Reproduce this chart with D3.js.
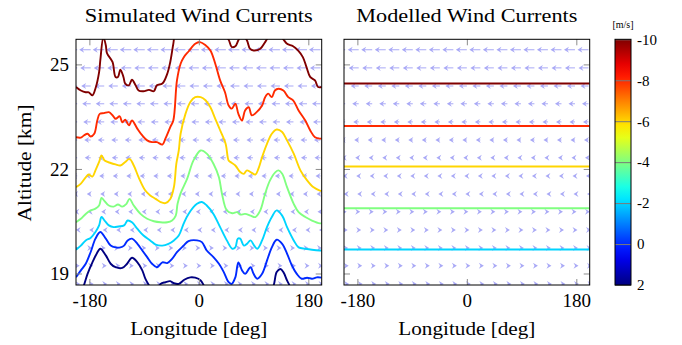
<!DOCTYPE html>
<html>
<head>
<meta charset="utf-8">
<script src="https://cdn.jsdelivr.net/npm/d3@7"></script>
<style>
body { margin: 0; background: #fff; }
text { font-family: "Liberation Serif", "DejaVu Serif", serif; fill: #000; }
</style>
</head>
<body>
<svg id="chart" width="682" height="345"></svg>
<script>
// contour levels [m/s] and the simulated contour lines as [lon, alt] pairs
const levels = [-10, -8, -6, -4, -2, 0, 2];

const simM10 = [[-202,24.35],[-194,24.25],[-186,24.20],[-181,24.20],[-175,24.11],[-170,24.31],[-164,24.78],[-162,25.12],[-157,25.78],[-153,25.55],[-151,25.32],[-142,25.07],[-137,24.64],[-133,24.64],[-129,24.85],[-124,24.64],[-121,24.45],[-115,24.40],[-110,24.56],[-104,24.40],[-99,24.25],[-91,24.23],[-82,24.27],[-74,24.23],[-69,24.40],[-60,24.45],[-52,24.73],[-47,25.07],[-42,25.59],[-38,25.95],[-20,26.3],[10,26.4],[35,26.1],[44,25.8],[49,25.71],[54,25.50],[60,25.52],[65,25.69],[71,25.85],[79,25.69],[84,25.45],[90,25.40],[101,25.45],[109,25.64],[117,25.85],[128,25.95],[139,25.72],[145,25.59],[155,25.52],[163,25.40],[171,25.21],[177,24.92],[183,24.64],[191,24.54],[196,24.35],[202,24.35]];
const simM8 = [[-202,22.91],[-194,22.90],[-189,22.96],[-183,23.01],[-178,22.93],[-172,23.01],[-167,23.39],[-163,23.58],[-156,23.60],[-148,23.63],[-142,23.54],[-137,23.44],[-130,23.51],[-126,23.34],[-121,23.41],[-115,23.25],[-110,23.39],[-101,23.15],[-93,22.96],[-85,22.82],[-77,22.77],[-69,22.77],[-60,22.70],[-55,22.87],[-47,23.20],[-42,23.39],[-36,24.54],[-30,25.02],[-25,25.20],[-17,25.37],[-6,25.59],[2,25.64],[11,25.55],[19,25.40],[27,25.02],[35,24.54],[43,24.20],[49,23.82],[54,23.73],[60,23.87],[65,23.58],[71,23.39],[76,23.68],[82,23.77],[87,23.54],[95,23.63],[104,23.82],[109,24.06],[114,24.16],[120,24.06],[125,24.25],[131,24.30],[139,24.25],[147,24.06],[155,23.97],[164,23.68],[175,23.39],[183,23.11],[191,22.91],[199,22.87],[202,22.88]];
const simM6 = [[-202,21.48],[-194,21.58],[-186,21.76],[-181,21.84],[-175,21.78],[-170,21.96],[-164,22.20],[-160,22.39],[-155,22.24],[-145,22.17],[-137,22.13],[-129,22.10],[-121,22.20],[-114,22.29],[-107,22.10],[-99,21.76],[-88,21.38],[-80,21.24],[-71,21.14],[-63,21.05],[-55,21.02],[-47,21.14],[-41,21.48],[-37,22.15],[-33,22.53],[-30,23.01],[-22,23.58],[-14,23.92],[-6,24.06],[3,24.06],[11,23.97],[19,23.77],[27,23.44],[35,23.11],[44,22.72],[49,22.24],[52,22.20],[60,22.10],[68,21.91],[74,21.86],[79,21.96],[85,21.91],[93,21.84],[98,22.01],[104,22.34],[112,22.72],[120,23.01],[128,23.13],[137,23.06],[145,22.82],[156,22.44],[167,21.96],[178,21.67],[188,21.48],[199,21.38],[202,21.37]];
const simM4 = [[-202,20.47],[-194,20.57],[-186,20.71],[-178,20.81],[-170,20.86],[-164,20.95],[-160,21.17],[-156,21.10],[-148,20.95],[-140,20.92],[-133,20.98],[-126,20.92],[-119,21.00],[-114,21.14],[-107,20.95],[-96,20.71],[-85,20.57],[-74,20.50],[-63,20.47],[-52,20.47],[-44,20.52],[-38,20.66],[-35,21.00],[-30,21.30],[-19,21.73],[-9,22.24],[3,22.53],[13,22.44],[24,22.15],[33,21.76],[38,21.29],[46,20.81],[55,20.73],[63,20.76],[68,20.69],[76,20.71],[85,20.66],[93,20.62],[101,20.81],[109,21.29],[117,21.67],[126,21.91],[131,21.96],[137,21.86],[145,21.48],[156,21.00],[164,20.76],[175,20.62],[186,20.52],[199,20.44],[202,20.44]];
const simM2 = [[-202,19.68],[-194,19.80],[-186,19.95],[-178,20.02],[-170,20.19],[-164,20.38],[-160,20.62],[-155,20.52],[-148,20.38],[-140,20.33],[-132,20.35],[-123,20.38],[-117,20.52],[-110,20.47],[-101,20.28],[-91,20.09],[-80,19.95],[-71,19.83],[-60,19.80],[-50,19.85],[-41,19.95],[-33,20.09],[-25,20.43],[-17,20.71],[-3,21.00],[5,21.05],[13,20.95],[24,20.71],[35,20.33],[46,19.95],[55,19.71],[60,19.75],[64,20.00],[68,20.00],[74,19.80],[79,19.85],[85,19.95],[91,19.80],[96,19.71],[104,19.95],[112,20.33],[120,20.62],[128,20.81],[137,20.66],[145,20.33],[156,19.95],[164,19.75],[175,19.71],[186,19.68],[199,19.66],[202,19.66]];
const sim0 = [[-202,18.89],[-194,19.09],[-186,19.28],[-178,19.61],[-170,20.00],[-162,20.19],[-153,20.00],[-145,19.80],[-137,19.75],[-129,19.75],[-123,19.80],[-117,19.95],[-110,20.00],[-101,19.85],[-93,19.66],[-85,19.47],[-77,19.28],[-69,19.18],[-60,19.32],[-52,19.30],[-44,19.42],[-36,19.61],[-25,19.80],[-17,19.93],[-3,19.95],[5,19.90],[13,19.66],[24,19.47],[33,19.28],[41,19.04],[49,18.75],[54,18.70],[60,18.89],[65,19.32],[71,19.09],[76,18.99],[85,19.18],[90,18.99],[96,18.85],[104,18.99],[112,19.37],[120,19.75],[128,19.97],[137,19.85],[145,19.57],[153,19.23],[161,18.99],[169,18.85],[178,18.88],[186,18.85],[194,18.89],[202,18.88]];
const simP2 = [[-202,18.30],[-194,18.46],[-189,18.66],[-183,18.99],[-175,19.32],[-168,19.57],[-162,19.71],[-153,19.52],[-145,19.28],[-137,19.18],[-126,19.16],[-118,19.28],[-110,19.45],[-101,19.32],[-93,19.09],[-88,18.85],[-82,18.66],[-76,18.45],[-70,18.45],[-63,18.70],[-55,18.75],[-47,18.78],[-41,18.72],[-33,18.70],[-24,18.82],[-14,18.89],[-6,18.88],[3,18.80],[8,18.66],[14,18.45],[60,18.20],[117,18.45],[123,18.66],[128,19.04],[134,19.13],[139,19.04],[145,18.80],[149,18.66],[153,18.45],[202,18.30]];
const simLines = [simM10, simM8, simM6, simM4, simM2, sim0, simP2];

// modelled contours: one altitude per level [km]
const modelAlt = [24.45, 23.23, 22.07, 20.87, 19.69, 18.50, 17.31];

// wind arrow grid
const arrowLon = [-200, -177.8, -155.6, -133.3, -111.1, -88.9, -66.7, -44.4, -22.2, 0, 22.2, 44.4, 66.7, 88.9, 111.1, 133.3, 155.6, 177.8, 200];
const arrowAlt = [18.70, 19.22, 19.73, 20.25, 20.77, 21.28, 21.80, 22.32, 22.83, 23.35, 23.87, 24.38, 24.90, 25.42];
const simU = [3, 2.5, 1.5, -1.5, -3, -4, -5, -6, -6.5, -7.5, -8.5, -9.5, -10.5, -11.5];
const modelU = [4, 3.5, 3, 2.5, 1.5, -1.5, -2.5, -3.5, -4.5, -5.5, -6.5, -8, -10, -11];

const lonTicks = [-180, 0, 180];
const altTicks = [19, 22, 25];
const cbTicks = [-10, -8, -6, -4, -2, 0, 2];

const svg = d3.select("#chart");
const plotTop = 39.3, plotBottom = 285, side = 245.7;
const panels = [
    { x0: 76, title: "Simulated Wind Currents", titleLen: 228, u: simU, lines: simLines, labels: true },
    { x0: 344, title: "Modelled Wind Currents", titleLen: 221, u: modelU, lines: null, labels: false }
];

const y = d3.scaleLinear().domain([18.67, 25.72]).range([plotBottom, plotTop]);

const jet = d3.scaleLinear()
    .domain([0, 0.125, 0.375, 0.625, 0.875, 1])
    .range(["#000080", "#0000ff", "#00ffff", "#ffff00", "#ff0000", "#800000"]);
const levelColor = v => jet((2 - v) / 12);
const plain = d => String(d);  // hyphen minus, as in the original

const line = d3.line()
    .x(d => d[0])
    .y(d => d[1])
    .curve(d3.curveCatmullRom.alpha(0.5));

const defs = svg.append("defs");

panels.forEach((p, pi) => {
    const x = d3.scaleLinear().domain([-202, 202]).range([p.x0, p.x0 + side]);
    const g = svg.append("g");

    defs.append("clipPath").attr("id", "clip" + pi)
        .append("rect").attr("x", p.x0).attr("y", plotTop).attr("width", side).attr("height", plotBottom - plotTop);

    const plot = g.append("g").attr("clip-path", "url(#clip" + pi + ")");

    // quiver arrows
    const arrows = plot.append("g").attr("fill", "#a9a9f6").attr("stroke", "#a9a9f6");
    arrowAlt.forEach((alt, i) => {
        const u = p.u[i], dir = Math.sign(u), yy = y(alt);
        arrowLon.forEach(lon => {
            const x0 = x(lon), x1 = x0 + u;
            if (Math.abs(u) > 3) {
                arrows.append("line")
                    .attr("x1", x0).attr("y1", yy)
                    .attr("x2", x1 - dir * 3).attr("y2", yy)
                    .attr("stroke-width", 1);
            }
            arrows.append("path")
                .attr("stroke", "none")
                .attr("d", `M${x1},${yy}L${x1 - dir * 5},${yy - 3}L${x1 - dir * 3.3},${yy}L${x1 - dir * 5},${yy + 3}Z`);
        });
    });

    // contour lines
    if (p.lines) {
        p.lines.forEach((pts, k) => {
            plot.append("path")
                .attr("d", line(pts.map(d => [x(d[0]), y(d[1])])))
                .attr("fill", "none")
                .attr("stroke", levelColor(levels[k]))
                .attr("stroke-width", 1.9)
                .attr("stroke-linejoin", "round");
        });
    } else {
        modelAlt.forEach((alt, k) => {
            plot.append("line")
                .attr("x1", x(-202)).attr("x2", x(202))
                .attr("y1", y(alt)).attr("y2", y(alt))
                .attr("stroke", levelColor(levels[k]))
                .attr("stroke-width", 2);
        });
    }

    // axes with inward gray ticks on all four sides
    const axB = g.append("g").attr("transform", `translate(0,${plotBottom})`)
        .call(d3.axisBottom(x).tickValues(lonTicks).tickSize(-6).tickPadding(9).tickFormat(plain));
    const axT = g.append("g").attr("transform", `translate(0,${plotTop})`)
        .call(d3.axisTop(x).tickValues(lonTicks).tickSize(-6).tickFormat(""));
    const axL = g.append("g").attr("transform", `translate(${p.x0},0)`)
        .call(d3.axisLeft(y).tickValues(altTicks).tickSize(-6).tickPadding(7)
            .tickFormat(p.labels ? plain : ""));
    const axR = g.append("g").attr("transform", `translate(${p.x0 + side},0)`)
        .call(d3.axisRight(y).tickValues(altTicks).tickSize(-6).tickFormat(""));
    [axB, axT, axL, axR].forEach(a => {
        a.select(".domain").remove();
        a.selectAll(".tick line").attr("stroke", "#8c8c8c").attr("stroke-width", 1);
        a.selectAll(".tick text").attr("font-family", "Liberation Serif").attr("font-size", 19).attr("fill", "#000");
    });

    g.append("rect")
        .attr("x", p.x0).attr("y", plotTop).attr("width", side).attr("height", plotBottom - plotTop)
        .attr("fill", "none").attr("stroke", "#000").attr("stroke-width", 1);

    g.append("text")
        .attr("x", p.x0 + side / 2).attr("y", 22)
        .attr("text-anchor", "middle").attr("font-size", 19)
        .attr("textLength", p.titleLen).attr("lengthAdjust", "spacingAndGlyphs")
        .text(p.title);

    g.append("text")
        .attr("x", p.x0 + side / 2).attr("y", 335)
        .attr("text-anchor", "middle").attr("font-size", 19)
        .attr("textLength", 137).attr("lengthAdjust", "spacingAndGlyphs")
        .text("Longitude [deg]");
});

svg.append("text")
    .attr("transform", "translate(31,163) rotate(-90)")
    .attr("text-anchor", "middle").attr("font-size", 19)
    .attr("textLength", 117).attr("lengthAdjust", "spacingAndGlyphs")
    .text("Altitude [km]");

// colorbar
const cb = d3.scaleLinear().domain([2, -10]).range([plotBottom, plotTop]);
const grad = defs.append("linearGradient").attr("id", "jetGrad")
    .attr("x1", 0).attr("y1", 1).attr("x2", 0).attr("y2", 0);
d3.range(0, 1.0001, 0.05).forEach(t => {
    grad.append("stop").attr("offset", t).attr("stop-color", jet(t));
});
const cbX = 615, cbW = 16;
svg.append("rect")
    .attr("x", cbX).attr("y", plotTop).attr("width", cbW).attr("height", plotBottom - plotTop)
    .attr("fill", "url(#jetGrad)");
const cbAxis = svg.append("g").attr("transform", `translate(${cbX + cbW},0)`)
    .call(d3.axisRight(cb).tickValues(cbTicks).tickSize(-cbW).tickPadding(6).tickFormat(plain));
cbAxis.select(".domain").remove();
cbAxis.selectAll(".tick line").attr("stroke", "#7a7a7a").attr("stroke-width", 1);
cbAxis.selectAll(".tick text").attr("font-family", "Liberation Serif").attr("font-size", 15).attr("fill", "#000");
svg.append("rect")
    .attr("x", cbX).attr("y", plotTop).attr("width", cbW).attr("height", plotBottom - plotTop)
    .attr("fill", "none").attr("stroke", "#000").attr("stroke-width", 1);
svg.append("text")
    .attr("x", cbX + cbW / 2).attr("y", 28)
    .attr("text-anchor", "middle").attr("font-size", 10)
    .text("[m/s]");
</script>
</body>
</html>
